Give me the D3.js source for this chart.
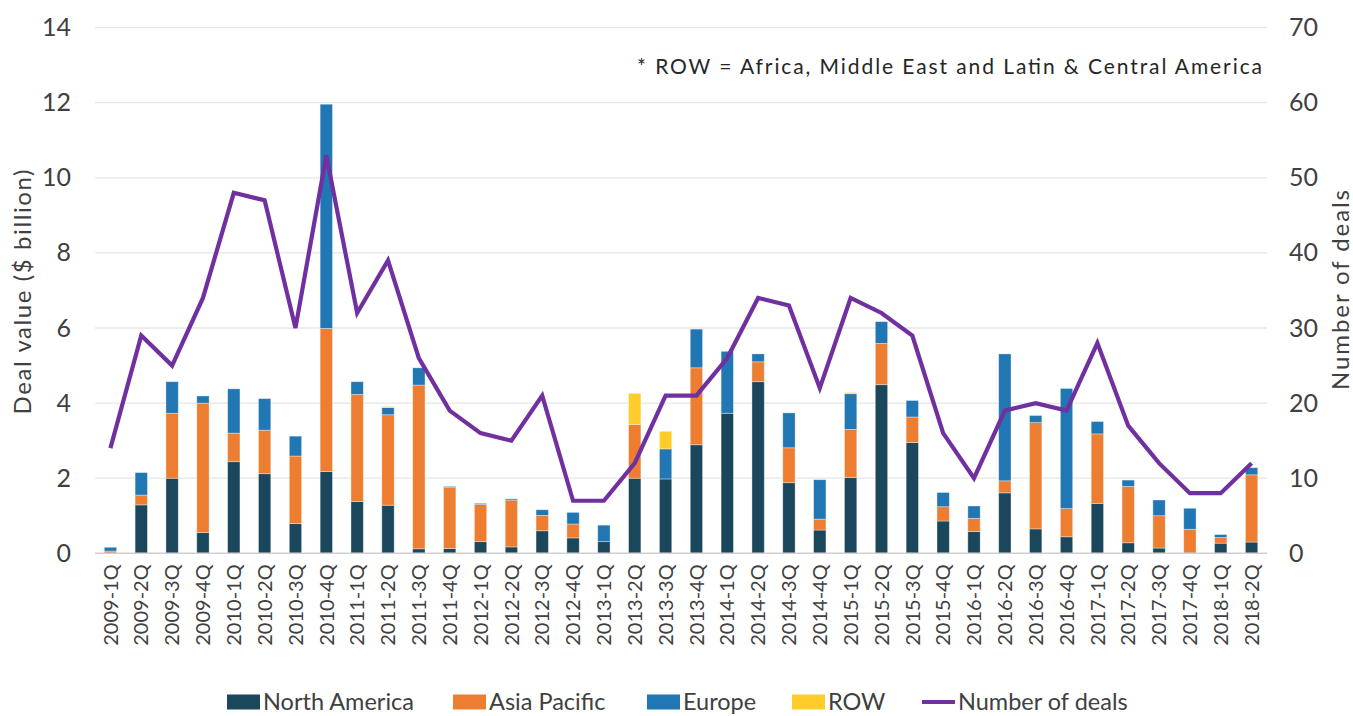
<!DOCTYPE html>
<html><head><meta charset="utf-8">
<script src="https://cdn.jsdelivr.net/npm/d3@7"></script>
<style>
body{margin:0;background:#fff;}
svg{font-family:Lato,"Noto Sans",sans-serif;}
</style></head>
<body><svg id="c" width="1353" height="716"></svg>
<script>
const categories=["2009-1Q","2009-2Q","2009-3Q","2009-4Q","2010-1Q","2010-2Q","2010-3Q","2010-4Q","2011-1Q","2011-2Q","2011-3Q","2011-4Q","2012-1Q","2012-2Q","2012-3Q","2012-4Q","2013-1Q","2013-2Q","2013-3Q","2013-4Q","2014-1Q","2014-2Q","2014-3Q","2014-4Q","2015-1Q","2015-2Q","2015-3Q","2015-4Q","2016-1Q","2016-2Q","2016-3Q","2016-4Q","2017-1Q","2017-2Q","2017-3Q","2017-4Q","2018-1Q","2018-2Q"];
const northAmerica=[0,1.29,2.0,0.55,2.44,2.12,0.79,2.18,1.38,1.28,0.12,0.13,0.31,0.17,0.60,0.41,0.31,2.0,1.98,2.89,3.73,4.57,1.88,0.62,2.02,4.49,2.95,0.86,0.58,1.61,0.65,0.44,1.33,0.28,0.14,0,0.27,0.30];
const asiaPacific=[0.06,0.26,1.73,3.45,0.76,1.16,1.80,3.81,2.85,2.41,4.36,1.62,0.99,1.25,0.41,0.37,0,1.43,0,2.05,0,0.53,0.93,0.29,1.28,1.10,0.68,0.38,0.35,0.32,2.83,0.75,1.85,1.50,0.86,0.64,0.15,1.79];
const europe=[0.10,0.60,0.84,0.19,1.18,0.84,0.53,5.97,0.34,0.19,0.46,0.03,0.03,0.03,0.15,0.31,0.44,0,0.80,1.03,1.65,0.21,0.93,1.05,0.95,0.58,0.44,0.38,0.33,3.38,0.19,3.20,0.33,0.17,0.42,0.56,0.08,0.19];
const row=[0,0,0,0,0,0,0,0,0,0.03,0,0,0,0,0,0,0,0.83,0.47,0,0,0,0,0,0.03,0,0,0,0,0,0,0,0,0,0,0,0,0];
const deals=[14,29,25,34,48,47,30,53,32,39,26,19,16,15,21,7,7,12,21,21,26,34,33,22,34,32,29,16,10,19,20,19,28,17,12,8,8,12];
const leftTicks=[0,2,4,6,8,10,12,14];
const rightTicks=[0,10,20,30,40,50,60,70];
const seriesNames=["North America","Asia Pacific","Europe","ROW"];
const seriesColors=["#1a475b","#ed7d31","#2176b4","#ffcc2a"];
const lineName="Number of deals";
const lineColor="#7030a0";
const note="* ROW = Africa, Middle East and Latin & Central America";

const svg=d3.select("#c");
const L=95,R=1267,T=27.6,B=553.3;
const x=d3.scaleBand().domain(categories).range([L,R]).paddingInner(0.6).paddingOuter(0.3);
const y=d3.scaleLinear().domain([0,14]).range([B,T]);
const y2=d3.scaleLinear().domain([0,70]).range([B,T]);
const txt="#404040";

// gridlines
svg.append("g").selectAll("line").data(leftTicks.filter(d=>d>0)).join("line")
  .attr("x1",L).attr("x2",R).attr("y1",d=>y(d)).attr("y2",d=>y(d))
  .attr("stroke","#e6e6e6").attr("stroke-width",1.3);

// left axis
const ga=svg.append("g").attr("transform",`translate(${L-24},0)`)
  .call(d3.axisLeft(y).tickValues(leftTicks).tickSize(0).tickPadding(0));
ga.select(".domain").remove();
ga.selectAll("text").attr("font-size",25).attr("fill",txt).attr("font-family","Lato,sans-serif");

const gr=svg.append("g").attr("transform",`translate(${R+22},0)`)
  .call(d3.axisRight(y2).tickValues(rightTicks).tickSize(0).tickPadding(0));
gr.select(".domain").remove();
gr.selectAll("text").attr("font-size",25).attr("fill",txt).attr("font-family","Lato,sans-serif");

// stacked bars
const table=categories.map((c,i)=>({cat:c,"North America":northAmerica[i],"Asia Pacific":asiaPacific[i],"Europe":europe[i],"ROW":row[i]}));
const stack=d3.stack().keys(seriesNames)(table);
svg.append("g").selectAll("g").data(stack).join("g")
  .attr("fill",(d,i)=>seriesColors[i])
  .selectAll("rect").data(d=>d.filter(p=>p[1]-p[0]>0)).join("rect")
  .attr("x",d=>x(d.data.cat)).attr("width",x.bandwidth())
  .attr("y",d=>y(d[1])).attr("height",d=>y(d[0])-y(d[1]))
  .attr("stroke","#ffffff").attr("stroke-opacity",0.45).attr("stroke-width",0.8);

// x axis line
svg.append("line").attr("x1",L).attr("x2",R).attr("y1",B).attr("y2",B)
  .attr("stroke","#d0d0d0").attr("stroke-width",1.5);

// x labels
const gx=svg.append("g").attr("transform",`translate(0,${B})`)
  .call(d3.axisBottom(x).tickSize(0).tickPadding(0));
gx.select(".domain").remove();
gx.selectAll("text").attr("font-size",20).attr("fill",txt).attr("font-family","Lato,sans-serif")
  .attr("transform","rotate(-90)").attr("text-anchor","end").attr("dx","-11").attr("dy","0.36em").attr("y",0)
  .attr("x",0);

// line
const line=d3.line().x((d,i)=>x(categories[i])+x.bandwidth()/2).y(d=>y2(d));
svg.append("path").datum(deals).attr("d",line).attr("fill","none")
  .attr("stroke",lineColor).attr("stroke-width",4.2).attr("stroke-linejoin","miter");

// axis titles
svg.append("text").attr("transform",`translate(31,292) rotate(-90)`).attr("text-anchor","middle")
  .attr("font-size",24).attr("fill",txt).attr("textLength",245).attr("lengthAdjust","spacing").text("Deal value ($ billion)");
svg.append("text").attr("transform",`translate(1349,290) rotate(-90)`).attr("text-anchor","middle")
  .attr("font-size",24).attr("fill",txt).attr("textLength",200).attr("lengthAdjust","spacing").text(lineName);

// note
svg.append("text").attr("x",1262).attr("y",74).attr("text-anchor","end")
  .attr("font-size",21).attr("fill","#262626").attr("textLength",625).attr("lengthAdjust","spacing").text(note);

// legend
const leg=[{name:"North America",c:seriesColors[0],x:227},{name:"Asia Pacific",c:seriesColors[1],x:453},{name:"Europe",c:seriesColors[2],x:647},{name:"ROW",c:seriesColors[3],x:792},{name:lineName,c:lineColor,x:922,line:true}];
const lg=svg.append("g");
const ly=702;
leg.forEach(d=>{
  if(d.line){lg.append("line").attr("x1",d.x).attr("x2",d.x+33).attr("y1",ly).attr("y2",ly).attr("stroke",d.c).attr("stroke-width",4);}
  else lg.append("rect").attr("x",d.x).attr("y",ly-7.5).attr("width",33).attr("height",15).attr("fill",d.c);
  lg.append("text").attr("x",d.x+36).attr("y",ly).attr("dy","0.35em").attr("font-size",23.5).attr("fill",txt).text(d.name);
});
</script></body></html>
